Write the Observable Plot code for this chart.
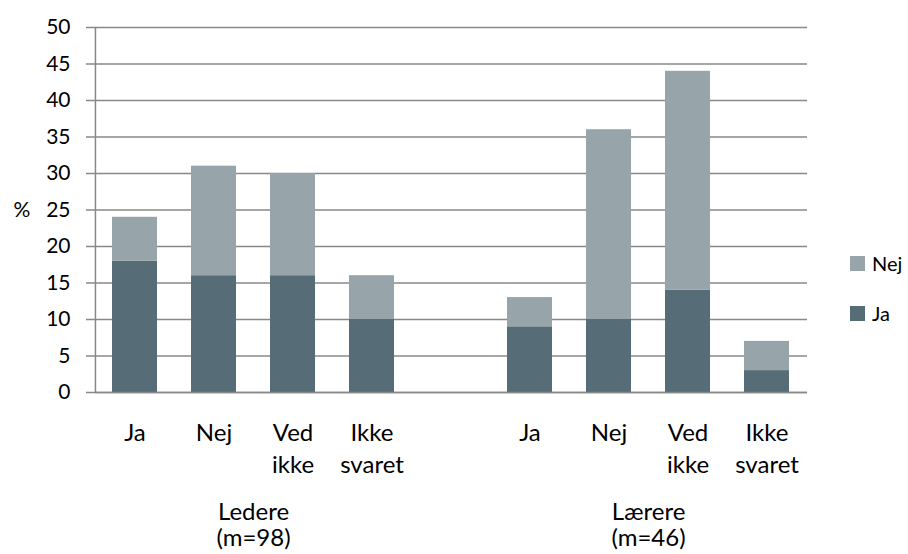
<!DOCTYPE html>
<html><head><meta charset="utf-8">
<script src="https://cdn.jsdelivr.net/npm/d3@7"></script>
<script src="https://cdn.jsdelivr.net/npm/@observablehq/plot@0.6"></script>
<style>
html,body{margin:0;padding:0;background:#fff;}
#wrap{position:relative;width:908px;height:554px;font-family:Lato,sans-serif;}
.leg{position:absolute;left:850px;display:flex;align-items:center;font-size:20px;color:#000;line-height:1;}
.sw{width:15px;height:15px;margin-right:7px;}
</style></head><body><div id="wrap"></div>
<script>
// Data
const groups = ["Ledere\n(m=98)", "Lærere\n(m=46)"];
const categories = ["Ja", "Nej", "Ved ikke", "Ikke svaret"];
const categoryLabels = ["Ja", "Nej", "Ved\nikke", "Ikke\nsvaret"];
const series = ["Ja", "Nej"];
const colors = ["#566c76", "#97a4aa"];
const jaValues = [[18, 16, 16, 10], [9, 10, 14, 3]];
const nejValues = [[6, 15, 14, 6], [4, 26, 30, 4]];
const yTicks = [0, 5, 10, 15, 20, 25, 30, 35, 40, 45, 50];

// Slots: group 1 categories, an empty gap, group 2 categories
const slots = [];
groups.forEach((g, gi) => {
  if (gi > 0) slots.push("gap" + gi);
  categories.forEach(c => slots.push(gi + "|" + c));
});

const rows = [];
series.forEach((s, si) => {
  const vals = si === 0 ? jaValues : nejValues;
  groups.forEach((g, gi) => categories.forEach((c, ci) => {
    rows.push({slot: gi + "|" + c, series: s, value: vals[gi][ci]});
  }));
});
const labelRows = [];
groups.forEach((g, gi) => categories.forEach((c, ci) => labelRows.push({slot: gi + "|" + c, label: categoryLabels[ci]})));
const groupRows = groups.map((g, gi) => ({slot: gi + "|" + categories[1], label: g}));

const W = 908, H = 554, ML = 95, MR = 101, MT = 27, MB = 162;
const step = (W - ML - MR) / slots.length;
const grid = "#888888";

const chart = Plot.plot({
  width: W, height: H,
  marginLeft: ML, marginRight: MR, marginTop: MT, marginBottom: MB,
  style: {fontFamily: "Lato, sans-serif", fontSize: "21px", color: "#000", background: "#fff"},
  x: {domain: slots, paddingInner: 0.43, paddingOuter: 0.215, axis: null},
  y: {domain: [0, 50]},
  color: {domain: series, range: colors},
  marks: [
    Plot.ruleY(yTicks, {stroke: grid, strokeWidth: 1.5}),
    Plot.axisY({ticks: yTicks, tickSize: 9, tickPadding: 16, stroke: grid, strokeWidth: 1.5, fill: "#000", fontSize: 21, label: null}),
    Plot.barY(rows, {x: "slot", y: "value", fill: "series"}),
    Plot.ruleX([slots[0]], {dx: -step / 2, y1: 0, y2: 50, stroke: grid, strokeWidth: 1.5}),
    Plot.ruleY([0], {stroke: grid, strokeWidth: 1.5}),
    Plot.text(labelRows, {x: "slot", text: "label", frameAnchor: "bottom", lineAnchor: "top", dy: 25, fontSize: 24, lineHeight: 1.35, fill: "#000"}),
    Plot.text(groupRows, {x: "slot", text: "label", frameAnchor: "bottom", lineAnchor: "top", dx: step / 2, dy: 108, fontSize: 24, lineHeight: 1.12, fill: "#000"}),
    Plot.text(["%"], {y: () => 25, text: d => d, frameAnchor: "left", textAnchor: "start", dx: -82, fontSize: 21, fill: "#000"})
  ]
});
const wrap = document.getElementById("wrap");
wrap.appendChild(chart);

// Legend (top entry Nej, then Ja)
const legTops = [253, 303];
series.slice().reverse().forEach((s, i) => {
  const d = document.createElement("div");
  d.className = "leg";
  d.style.top = legTops[i] + "px";
  const sw = document.createElement("span");
  sw.className = "sw";
  sw.style.background = colors[series.indexOf(s)];
  d.appendChild(sw);
  d.appendChild(document.createTextNode(s));
  wrap.appendChild(d);
});
</script></body></html>
